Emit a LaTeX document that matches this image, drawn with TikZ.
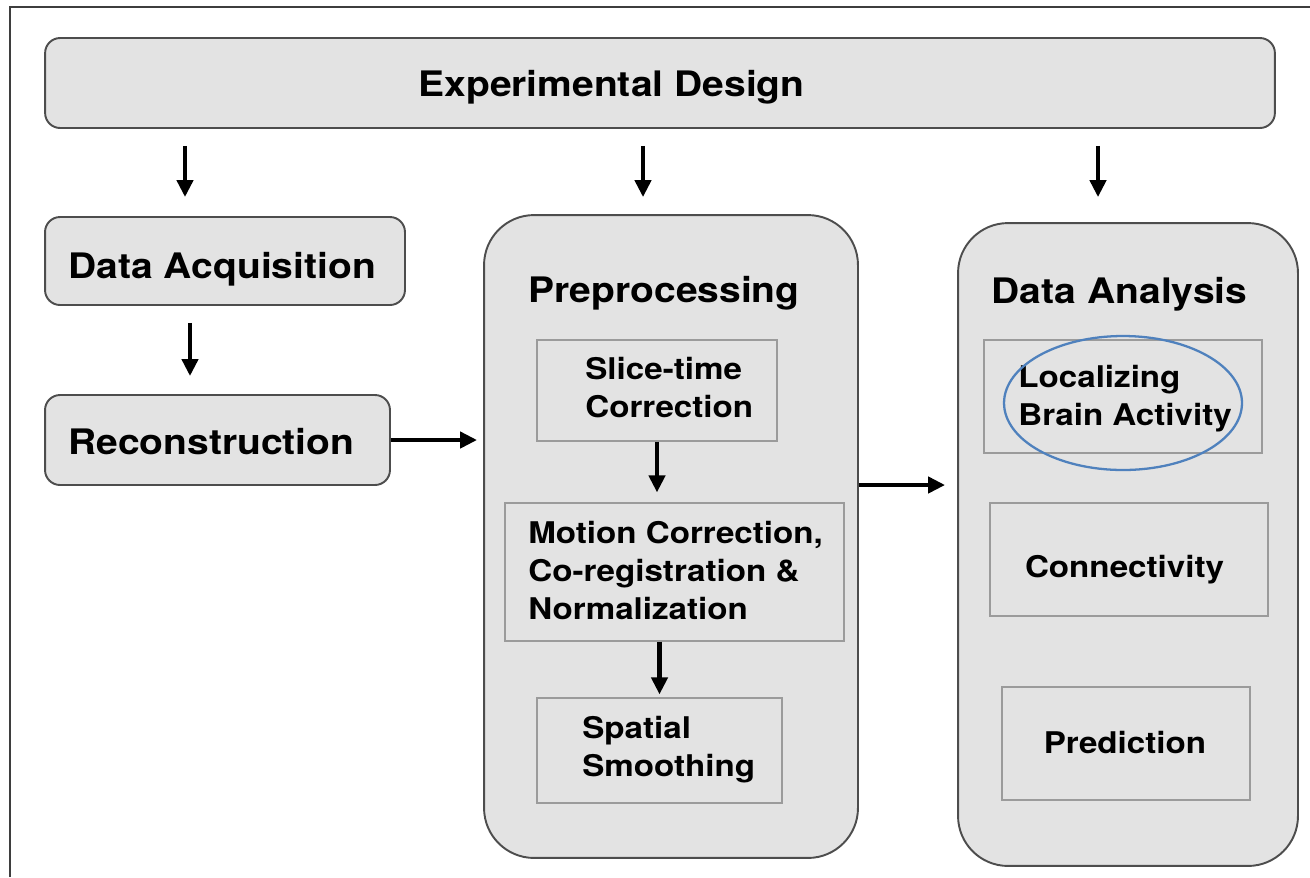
\documentclass[tikz,border=0pt]{standalone}
\usepackage{fontspec}
\setmainfont{TeX Gyre Heros}[FakeStretch=1.11]
\usepackage{xcolor}
\usetikzlibrary{arrows.meta}
\usetikzlibrary{shapes.geometric}
\definecolor{boxfill}{HTML}{E3E3E3}
\definecolor{boxline}{HTML}{4D4D4D}
\definecolor{innerline}{HTML}{9B9B9B}
\definecolor{hiblue}{HTML}{4F81BD}

\begin{document}
\begin{tikzpicture}[x=0.02cm, y=-0.02cm]
        % ================= 样式定义 =================
        \tikzset{
            % 圆角灰框 (外层模块)
            roundbox/.style={draw=boxline, fill=boxfill, line width=1.1pt, rounded corners=0.3cm, inner sep=0pt},
            % 大圆角容器 (预处理 / 数据分析)
            bigbox/.style={roundbox, rounded corners=1cm},
            % 内部步骤方框
            stepbox/.style={draw=innerline, fill=boxfill, line width=0.7pt, inner sep=0pt},
            % 标题文字与步骤文字
            headtxt/.style={font=\fontsize{20}{24}\selectfont\bfseries, inner sep=0pt},
            itemtxt/.style={font=\fontsize{17}{21.5}\selectfont\bfseries, inner sep=0pt, align=left},
            % 粗黑箭头
            arr/.style={-{Triangle[length=0.34cm, width=0.32cm]}, line width=2.6pt, black},
            % 蓝色椭圆标注
            hilite/.style={ellipse, draw=hiblue, line width=1.3pt, inner sep=0pt}
        }
        \useasboundingbox (0,0) rectangle (1310,877);

        % 外框
        \draw[boxline!80!black, line width=1.1pt] (10,877) -- (10,7) -- (1310,7);

        % ================= 顶部:实验设计 =================
        \node[roundbox, minimum width=24.6cm, minimum height=1.8cm] (ed) at (660,83) {};
        \node[headtxt, anchor=base] (edT) at (611.5,96) {Experimental Design};

        % ================= 左列:采集与重建 =================
        \node[roundbox, minimum width=7.2cm, minimum height=1.76cm] (da) at (225,261) {};
        \node[headtxt, anchor=base west] (daT) at (68,278) {Data Acquisition};

        \node[roundbox, minimum width=6.9cm, minimum height=1.8cm] (rec) at (217.5,440) {};
        \node[headtxt, anchor=base west] (recT) at (68,454) {Reconstruction};

        % ================= 中列:预处理 =================
        \node[bigbox, minimum width=7.48cm, minimum height=12.86cm] (pre) at (671,536.5) {};
        \node[headtxt, anchor=base] (preT) at (664,302) {Preprocessing};

        % 多行文字以最后一行基线定位
        \node[stepbox, minimum width=4.8cm, minimum height=2.02cm] (st) at (657,390.5) {};
        \node[itemtxt, anchor=base west] (stT) at (585,417) {Slice-time\\Correction};

        \node[stepbox, minimum width=6.78cm, minimum height=2.76cm] (mc) at (674.5,572) {};
        \node[itemtxt, anchor=base west] (mcT) at (528,619) {Motion Correction,\\Co-registration \&\\Normalization};

        \node[stepbox, minimum width=4.9cm, minimum height=2.1cm] (ss) at (659.5,750.5) {};
        \node[itemtxt, anchor=base west] (ssT) at (582,776) {Spatial\\Smoothing};

        % ================= 右列:数据分析 =================
        \node[bigbox, minimum width=6.8cm, minimum height=12.86cm] (dan) at (1128,544.5) {};
        \node[headtxt, anchor=base] (danT) at (1119.5,303) {Data Analysis};

        \node[stepbox, minimum width=5.56cm, minimum height=2.26cm] (lb) at (1123,396.5) {};
        \node[itemtxt, anchor=base west] (lbT) at (1018,425) {Localizing\\Brain Activity};
        \node[hilite, minimum width=4.76cm, minimum height=2.68cm] (hl) at (1123,403) {};

        \node[stepbox, minimum width=5.56cm, minimum height=2.26cm] (cn) at (1129,559.5) {};
        \node[itemtxt, anchor=base] (cnT) at (1124.5,577) {Connectivity};

        \node[stepbox, minimum width=4.96cm, minimum height=2.26cm] (pr) at (1126,743.5) {};
        \node[itemtxt, anchor=base] (prT) at (1125,753) {Prediction};

        % ================= 箭头 =================
        \coordinate (c1) at (185,0);
        \coordinate (c2) at (643,0);
        \coordinate (c3) at (1098,0);
        \coordinate (c4) at (190,0);
        \coordinate (r1) at (0,485);

        \draw[arr, shorten <=0.34cm, shorten >=0.38cm] (ed.south -| c1) -- (da.north -| c1);
        \draw[arr, shorten <=0.34cm, shorten >=0.34cm] (ed.south -| c2) -- (pre.north -| c2);
        \draw[arr, shorten <=0.34cm, shorten >=0.5cm] (ed.south -| c3) -- (dan.north -| c3);
        \draw[arr, shorten <=0.34cm, shorten >=0.36cm] (da.south -| c4) -- (rec.north -| c4);
        \draw[arr, shorten >=0.12cm] (rec.east) -- (rec.east -| pre.west);
        \draw[arr, shorten >=0.2cm] (st.south) -- (mc.north -| st.south);
        \draw[arr, shorten >=0.06cm] (mc.south -| ss.north) -- (ss.north);
        \draw[arr, shorten >=0.24cm] (pre.east |- r1) -- (dan.west |- r1);

    \end{tikzpicture}
\end{document}
